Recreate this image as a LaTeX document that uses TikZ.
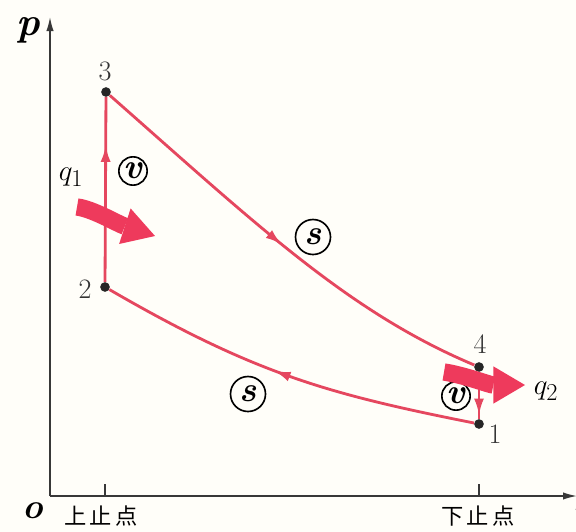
\documentclass[tikz,border=0pt]{standalone}
\usepackage{fontspec}
\newfontfamily\cjk{Noto Sans CJK SC}
\usetikzlibrary{arrows.meta,decorations.markings}
\definecolor{rojoCiclo}{HTML}{E5475F}
\definecolor{rojoCalor}{HTML}{EE3A5C}
\definecolor{grisEje}{HTML}{383838}
\definecolor{fondoPapel}{HTML}{FFFEF9}
\colorlet{colPunto}{black!85}

\begin{document}
\begin{tikzpicture}[x=0.03cm, y=-0.03cm,
        eje/.style={grisEje, line width=1.3pt, -{Latex[length=0.42cm, width=0.22cm]}},
        punto/.style={circle, fill=colPunto, inner sep=0pt, minimum size=0.29cm},
        proceso/.style={rojoCiclo, line width=2.4pt},
        flechaMedia/.style={postaction={decorate}, decoration={markings,
            mark=at position #1 with {\arrow{Latex[length=0.5cm, width=0.3cm]}}}},
        flechaCalor/.style={rojoCalor, line width=0.52cm,
            -{Triangle[length=0.95cm, width=1.12cm, line width=0pt]}},
        circulo/.style={circle, draw=black, line width=1.4pt, inner sep=0pt,
            font=\fontsize{30}{30}\selectfont\bfseries\itshape},
        numero/.style={font=\fontsize{24}{24}\selectfont, text=black!80},
        etiqueta/.style={font=\cjk\fontsize{19}{19}\selectfont}
    ]
        \useasboundingbox[fill=fondoPapel] (0,0) rectangle (576,532);

        % ejes p-v
        \coordinate (origen) at (50,496);
        \coordinate (ejeP) at (50,17);
        \coordinate (ejeV) at (577,496);
        \draw[eje] (origen) -- (ejeP);
        \draw[eje] (origen) -- (ejeV);
        \draw[grisEje, line width=1pt] (105,496) -- (105,484);
        \draw[grisEje, line width=1pt] (479,496) -- (479,484);

        \node[font=\fontsize{34}{34}\selectfont\bfseries\itshape] (etP) at (28,30) {p};
        \node[font=\fontsize{30}{30}\selectfont\bfseries\itshape] (etO) at (33,511) {o};
        \node[font=\fontsize{30}{30}\selectfont\bfseries\itshape, anchor=west] (etV) at (569,513) {v};
        \node[etiqueta] (pms) at (101,516) {上\kern3pt 止\kern3pt 点};
        \node[etiqueta] (pmi) at (478,516) {下\kern3pt 止\kern3pt 点};

        % estados del ciclo
        \node[punto] (p3) at (106,92) {};
        \node[punto] (p2) at (105,287) {};
        \node[punto] (p4) at (479,367) {};
        \node[punto] (p1) at (479,424) {};
        \node[numero] at (105,71) {3};
        \node[numero] at (85,289) {2};
        \node[numero] at (480,344) {4};
        \node[numero] at (495,434) {1};

        \draw[proceso, flechaMedia=0.74] (p2) -- (p3);
        \draw[proceso, flechaMedia=0.5] (p3) .. controls (256,224) and (348,312) .. (p4);
        \draw[proceso, flechaMedia=0.92] (p4) -- (p1);
        \draw[proceso, flechaMedia=0.53] (p1) .. controls (328,394) and (255,374) .. (p2);

        \node[circulo, minimum size=0.85cm] (cv1) at (133,171) {v};
        \node[circulo, minimum size=1.05cm] (cs1) at (313,237) {s};
        \node[circulo, minimum size=1.05cm] (cs2) at (248,394) {s};
        \node[circulo, minimum size=0.85cm] (cv2) at (456,396) {v};

        % calor
        \coordinate (q1ini) at (77,207);
        \coordinate (q1fin) at (155,236);
        \coordinate (q2ini) at (444,372);
        \coordinate (q2fin) at (525,385);
        \draw[flechaCalor] (q1ini) .. controls (93,209) and (118,224) .. (q1fin);
        \draw[flechaCalor] (q2ini) .. controls (464,375) and (490,385) .. (q2fin);
        \node[font=\fontsize{28}{28}\selectfont] (q1) at (71,177) {$q_1$};
        \node[font=\fontsize{28}{28}\selectfont] (q2) at (546,391) {$q_2$};
    \end{tikzpicture}
\end{document}
